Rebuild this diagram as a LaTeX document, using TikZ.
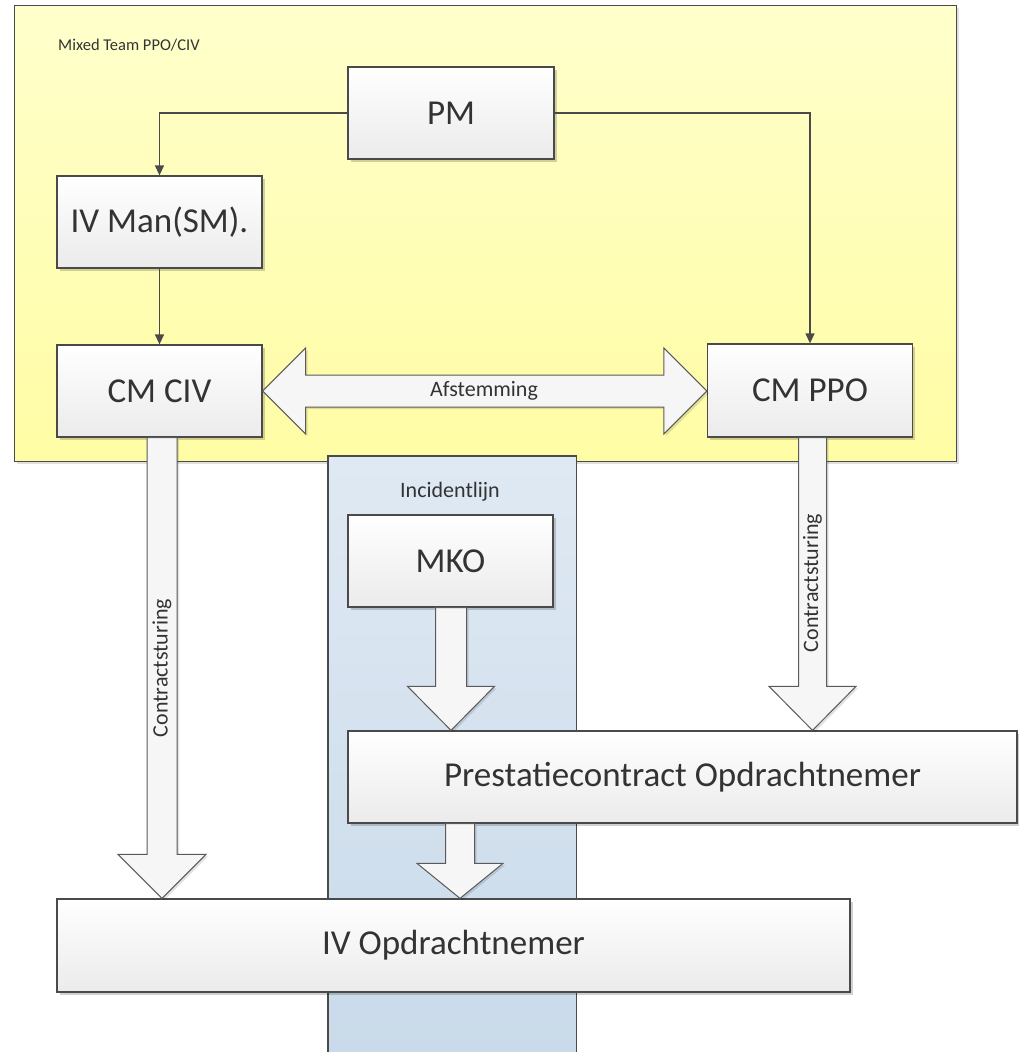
\documentclass[tikz,border=0pt]{standalone}
\usepackage{fontspec}
\setmainfont{Carlito}
\usetikzlibrary{calc,shadows,arrows.meta}
\definecolor{bordc}{HTML}{4A4A4A}
\definecolor{txtc}{HTML}{333333}
\definecolor{yeltop}{HTML}{FFFFCC}
\definecolor{yelbot}{HTML}{FFFDA4}
\definecolor{bluetop}{HTML}{DFE9F3}
\definecolor{bluebot}{HTML}{C9DAEA}
\definecolor{boxbot}{HTML}{EBEBEB}
\definecolor{arrfill}{HTML}{F6F6F6}
\definecolor{arrline}{HTML}{5A5A5A}
\newcommand\blockdown[6]{% from node, to node, x, shaft half, head half, head length
  \draw[barrow] let \p1=(#1.south), \p2=(#2.north) in
    (#3-#4,\y1) -- (#3-#4,{\y2+#6pt}) -- (#3-#5,{\y2+#6pt}) -- (#3,\y2)
    -- (#3+#5,{\y2+#6pt}) -- (#3+#4,{\y2+#6pt}) -- (#3+#4,\y1) -- cycle;}
\begin{document}
\begin{tikzpicture}[x=1pt,y=-1pt,
  box/.style={draw=bordc, line width=1.3pt, top color=white, bottom color=boxbot,
    text=txtc, inner sep=0pt, font=\fontsize{35}{41}\selectfont,
    drop shadow={shadow xshift=2.5pt, shadow yshift=-2.5pt, opacity=0.18, fill=black}},
  conn/.style={draw=bordc, line width=1.3pt, -{Triangle[length=10pt,width=9pt]}},
  barrow/.style={draw=arrline, line width=1pt, fill=arrfill,
    drop shadow={shadow xshift=2pt, shadow yshift=-2pt, opacity=0.12, fill=black}},
  lbl/.style={text=txtc, inner sep=0pt, font=\fontsize{22}{26}\selectfont}]
\useasboundingbox (0,0) rectangle (1019,1052);
% containers
\node[draw=bordc, line width=1.3pt, top color=yeltop, bottom color=yelbot,
  minimum width=942pt, minimum height=456pt, anchor=north west, inner sep=0pt,
  drop shadow={shadow xshift=2.5pt, shadow yshift=-2.5pt, opacity=0.12, fill=black}]
  (team) at (14,5) {};
\node[anchor=west, text=txtc, inner sep=0pt, font=\fontsize{16.5}{20}\selectfont]
  (teamlabel) at (58,45) {Mixed Team PPO/CIV};
\node[top color=bluetop, bottom color=bluebot, minimum width=248pt, minimum height=604pt,
  anchor=north west, inner sep=0pt] (lane) at (328,456) {};
\draw[bordc, line width=1.3pt] (lane.south west) -- (lane.north west) -- (lane.north east) -- (lane.south east);
\node[lbl] (lanelabel) at (450,492) {Incidentlijn};
% boxes
\node[box, minimum width=206pt, minimum height=92pt] (PM) at (451,113) {PM};
\node[box, minimum width=205pt, minimum height=92pt] (IVMan) at (159.5,222) {IV Man(SM).};
\node[box, minimum width=205pt, minimum height=92pt] (CMCIV) at (159.5,391) {CM CIV};
\node[box, minimum width=205pt, minimum height=93pt] (CMPPO) at (810,390.5) {CM PPO};
\node[box, minimum width=205pt, minimum height=92pt] (MKO) at (450.5,561) {MKO};
\node[box, minimum width=669pt, minimum height=92pt] (PREST) at (682.5,777) {Prestatiecontract Opdrachtnemer};
\node[box, minimum width=793pt, minimum height=93pt] (IVOPD) at (453.5,945.5) {IV Opdrachtnemer};
% thin connectors
\draw[conn] (PM.west) -| (IVMan.north);
\draw[conn] (PM.east) -| (CMPPO.north);
\draw[conn] (IVMan.south) -- (CMCIV.north);
% double block arrow
\draw[barrow] let \p1=(CMCIV.east), \p2=(CMPPO.west) in
  (\x1,391) -- (\x1+43pt,348) -- (\x1+43pt,375) -- (\x2-43pt,375) -- (\x2-43pt,348)
  -- (\x2,391) -- (\x2-43pt,434) -- (\x2-43pt,407) -- (\x1+43pt,407) -- (\x1+43pt,434) -- cycle;
\node[lbl] (afst) at (484,391) {Afstemming};
% block arrows down
\blockdown{CMCIV}{IVOPD}{162}{15}{44}{44}
\blockdown{CMPPO}{PREST}{812.5}{14}{43.5}{44}
\blockdown{MKO}{PREST}{451}{15.5}{43.5}{44}
\blockdown{PREST}{IVOPD}{460}{14.5}{43}{35}
\node[lbl, rotate=90] (cs1) at (162,668) {Contractsturing};
\node[lbl, rotate=90] (cs2) at (812.5,583) {Contractsturing};
\end{tikzpicture}
\end{document}
